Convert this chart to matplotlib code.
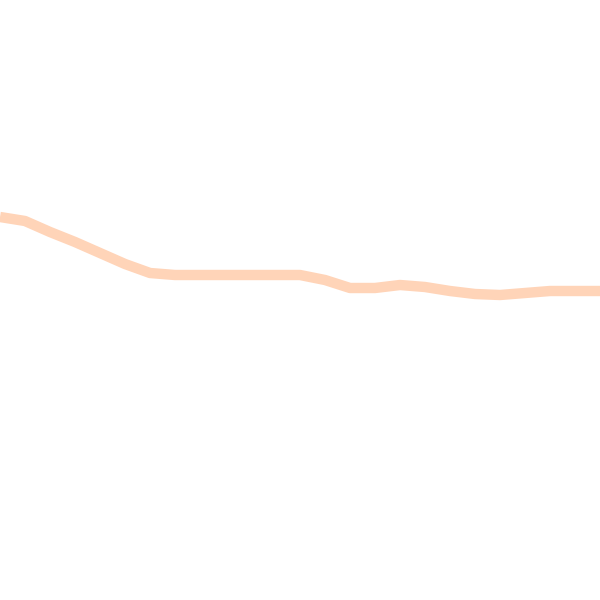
import matplotlib
matplotlib.use("Agg")
import matplotlib.pyplot as plt

x_vals = [0, 25, 50, 75, 100, 125, 150, 175, 200, 225, 250, 275, 300,
          325, 350, 375, 400, 425, 450, 475, 500, 525, 550, 575, 600]
y_vals = [383, 379, 368, 358, 347, 336, 327, 325, 325, 325, 325, 325, 325,
          320, 312, 312, 315, 313, 309, 306, 305, 307, 309, 309, 309]

fig = plt.figure(figsize=(6, 6), dpi=100)
ax = fig.add_axes([0, 0, 1, 1])
ax.plot(x_vals, y_vals, color="#FFD4B8", linewidth=7.5, solid_capstyle="butt")
ax.set_xlim(0, 600)
ax.set_ylim(0, 600)
ax.axis("off")
fig.savefig("out.png", dpi=100, facecolor="white")
